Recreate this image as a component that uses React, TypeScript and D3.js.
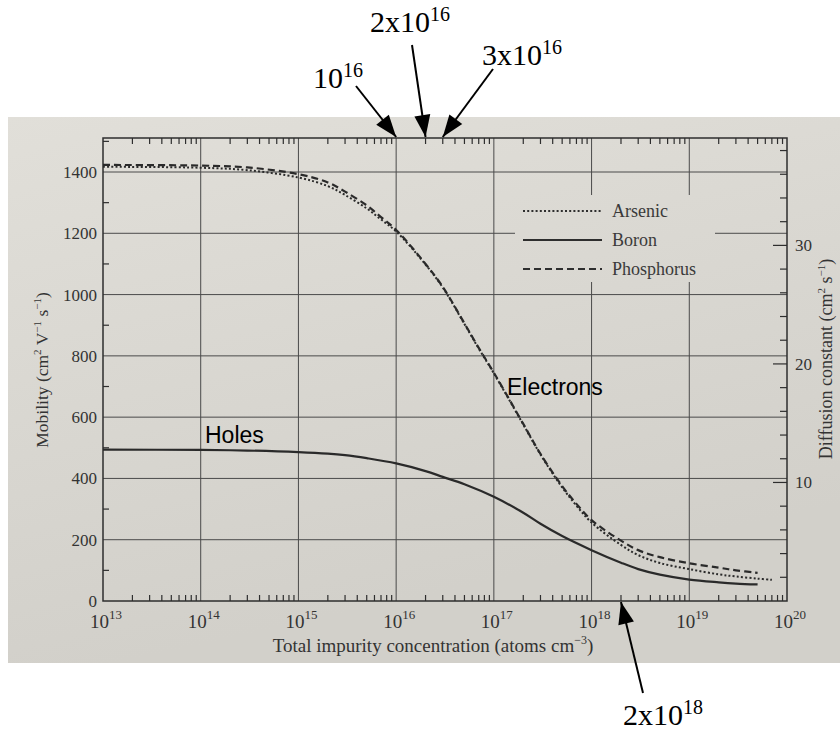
import React from 'react';
import * as d3 from 'd3';

// electrons, phosphorus doped (dashed)
const phosConc = [1e13, 1e14, 3e14, 1e15, 2e15, 3e15, 5e15, 7e15, 1e16, 2e16, 3e16, 5e16, 7e16, 1e17, 2e17, 3e17, 5e17, 7e17, 1e18, 2e18, 3e18, 5e18, 1e19, 2e19, 3e19, 5e19];
const phosMobility = [1423, 1421, 1415, 1393, 1366, 1336, 1291, 1253, 1211, 1100, 1025, 906, 826, 745, 578, 480, 375, 317, 264, 197, 166, 143, 123, 109, 100, 92];

// electrons, arsenic doped (dotted)
const arsConc = [1e13, 1e14, 3e14, 1e15, 2e15, 3e15, 5e15, 7e15, 1e16, 2e16, 3e16, 5e16, 7e16, 1e17, 2e17, 3e17, 5e17, 7e17, 1e18, 2e18, 3e18, 5e18, 1e19, 2e19, 3e19, 5e19, 7e19];
const arsMobility = [1417, 1414, 1406, 1382, 1354, 1325, 1281, 1245, 1206, 1098, 1023, 904, 824, 743, 576, 478, 371, 311, 256, 183, 150, 124, 104, 87, 80, 73, 69];

// holes, boron doped (solid)
const boronConc = [1e13, 1e14, 3e14, 1e15, 2e15, 3e15, 5e15, 1e16, 2e16, 3e16, 5e16, 1e17, 2e17, 3e17, 5e17, 1e18, 2e18, 3e18, 5e18, 1e19, 2e19, 3e19, 5e19];
const boronMobility = [494, 493, 491, 486, 481, 476, 466, 449, 424, 405, 381, 340, 288, 252, 212, 166, 125, 104, 86, 70, 61, 57, 54];

const decadeExps = [13, 14, 15, 16, 17, 18, 19, 20];
const mobilityTicks = [0, 200, 400, 600, 800, 1000, 1200, 1400];
const diffusionLabels = [10, 20, 30];
const legendItems = [
  { name: 'Arsenic', dash: '2,2.2' },
  { name: 'Boron', dash: '' },
  { name: 'Phosphorus', dash: '7,4' },
];
const topNotes = [
  { base: '10', sup: '16', at: 1e16, tx: 313, ty: 88, from: [356, 86] },
  { base: '2x10', sup: '16', at: 2e16, tx: 370, ty: 32, from: [412, 45] },
  { base: '3x10', sup: '16', at: 3e16, tx: 482, ty: 65, from: [493, 69] },
];
const bottomNote = { base: '2x10', sup: '18', at: 2e18, tx: 623, ty: 725, from: [643, 693] };

const KT_Q = 0.02585; // D = mu * kT/q
const W = 840;
const H = 732;
const left = 103, right = 787, top = 138, bottom = 601;
const yTopValue = 1511;
const serif = '"Liberation Serif", "Times New Roman", serif';
const sans = '"Liberation Sans", Arial, sans-serif';
const ink = '#2e2e2e';

const arrowHead = (x0: number, y0: number, x1: number, y1: number, len = 22, half = 8) => {
  const a = Math.atan2(y1 - y0, x1 - x0);
  const bx = x1 - len * Math.cos(a), by = y1 - len * Math.sin(a);
  const px = -Math.sin(a) * half, py = Math.cos(a) * half;
  return `M${x1},${y1}L${bx + px},${by + py}L${bx - px},${by - py}Z`;
};

export default function App() {
  const x = d3.scaleLog().domain([1e13, 1e20]).range([left, right]);
  const y = d3.scaleLinear().domain([0, yTopValue]).range([bottom, top]);

  const line = d3
    .line<[number, number]>()
    .x((d) => x(d[0]))
    .y((d) => y(d[1]))
    .curve(d3.curveCatmullRom.alpha(0.5));

  const zip = (a: number[], b: number[]) => a.map((v, i) => [v, b[i]] as [number, number]);

  const minorX: number[] = [];
  decadeExps.slice(0, -1).forEach((e) => {
    for (let k = 2; k <= 9; k++) minorX.push(k * Math.pow(10, e));
  });
  const minorY = d3.range(100, 1600, 200);
  const dTicks = d3.range(2, Math.floor(yTopValue * KT_Q) + 1, 2);

  const note = (n: typeof bottomNote, tipY: number, key: string) => {
    const tx = x(n.at);
    return (
      <g key={key}>
        <line x1={n.from[0]} y1={n.from[1]} x2={tx} y2={tipY} stroke="#000" strokeWidth={2} />
        <path d={arrowHead(n.from[0], n.from[1], tx, tipY)} fill="#000" />
        <text x={n.tx} y={n.ty} fontFamily={serif} fontSize={30} fill="#000">
          {n.base}
          <tspan fontSize={20} dy={-11}>{n.sup}</tspan>
        </text>
      </g>
    );
  };

  return (
    <svg width={W} height={H} style={{ position: 'absolute', left: 0, top: 0, background: '#fff' }}>
      <defs>
        <linearGradient id="paper" gradientUnits="userSpaceOnUse" x1="0" y1="117" x2="120" y2="663">
          <stop offset="0" stopColor="#e1dfd9" />
          <stop offset="1" stopColor="#d2d0ca" />
        </linearGradient>
      </defs>
      <rect x={8} y={117} width={W - 8} height={546} fill="url(#paper)" />

      {/* grid */}
      {decadeExps.slice(1, -1).map((e) => (
        <line key={'gx' + e} x1={x(Math.pow(10, e))} x2={x(Math.pow(10, e))} y1={top} y2={bottom} stroke="#4a4a4a" strokeWidth={1} />
      ))}
      {mobilityTicks.slice(1).map((v) => (
        <line key={'gy' + v} x1={left} x2={right} y1={y(v)} y2={y(v)} stroke="#4a4a4a" strokeWidth={1} />
      ))}

      {/* minor ticks */}
      {minorX.map((v, i) => (
        <g key={'mx' + i} stroke={ink} strokeWidth={1.2}>
          <line x1={x(v)} x2={x(v)} y1={bottom} y2={bottom - 6} />
          <line x1={x(v)} x2={x(v)} y1={top} y2={top + 6} />
        </g>
      ))}
      {minorY.map((v) => (
        <line key={'my' + v} x1={left} x2={left + 6} y1={y(v)} y2={y(v)} stroke={ink} strokeWidth={1.2} />
      ))}
      {dTicks.map((d) => (
        <line key={'dt' + d} x1={right} x2={right - (d % 10 === 0 ? 14 : 7)} y1={y(d / KT_Q)} y2={y(d / KT_Q)} stroke={ink} strokeWidth={1.2} />
      ))}

      {/* legend (covers grid) */}
      <rect x={515} y={195} width={200} height={87} fill="url(#paper)" />
      {legendItems.map((it, i) => (
        <g key={it.name}>
          <line x1={523} x2={602} y1={211 + i * 29} y2={211 + i * 29} stroke={ink} strokeWidth={2} strokeDasharray={it.dash || undefined} />
          <text x={612} y={217 + i * 29} fontFamily={serif} fontSize={18} fill="#3a3a3a">{it.name}</text>
        </g>
      ))}

      {/* frame */}
      <rect x={left} y={top} width={right - left} height={bottom - top} fill="none" stroke={ink} strokeWidth={1.5} />

      {/* curves */}
      <path d={line(zip(boronConc, boronMobility)) || ''} fill="none" stroke="#2a2a2a" strokeWidth={2.2} />
      <path d={line(zip(arsConc, arsMobility)) || ''} fill="none" stroke="#2a2a2a" strokeWidth={2} strokeDasharray="2,2.2" />
      <path d={line(zip(phosConc, phosMobility)) || ''} fill="none" stroke="#2a2a2a" strokeWidth={2.2} strokeDasharray="7,4" />

      {/* axis labels */}
      {mobilityTicks.map((v) => (
        <text key={'yl' + v} x={left - 6} y={y(v) + 6} textAnchor="end" fontFamily={serif} fontSize={17} fill="#333">{v}</text>
      ))}
      {diffusionLabels.map((d) => (
        <text key={'dl' + d} x={right + 8} y={y(d / KT_Q) + 6} fontFamily={serif} fontSize={17} fill="#333">{d}</text>
      ))}
      {decadeExps.map((e) => (
        <text key={'xl' + e} x={x(Math.pow(10, e)) - 13} y={628} fontFamily={serif} fontSize={19} fill="#333">
          10<tspan fontSize={13} dy={-9}>{e}</tspan>
        </text>
      ))}
      <text x={433} y={652} textAnchor="middle" fontFamily={serif} fontSize={19} fill="#333">
        Total impurity concentration (atoms cm<tspan fontSize={12} dy={-8}>−3</tspan><tspan dy={8}>)</tspan>
      </text>
      <text transform={`translate(48,370) rotate(-90)`} textAnchor="middle" fontFamily={serif} fontSize={17.5} fill="#333">
        Mobility (cm<tspan fontSize={11} dy={-7}>2</tspan><tspan dy={7}> V</tspan><tspan fontSize={11} dy={-7}>−1</tspan><tspan dy={7}> s</tspan><tspan fontSize={11} dy={-7}>−1</tspan><tspan dy={7}>)</tspan>
      </text>
      <text transform={`translate(832,359) rotate(-90)`} textAnchor="middle" fontFamily={serif} fontSize={18} fill="#333">
        Diffusion constant (cm<tspan fontSize={11} dy={-7}>2</tspan><tspan dy={7}> s</tspan><tspan fontSize={11} dy={-7}>−1</tspan><tspan dy={7}>)</tspan>
      </text>

      {/* overlaid labels */}
      <text x={205} y={443} fontFamily={sans} fontSize={23} fill="#000">Holes</text>
      <text x={507} y={395} fontFamily={sans} fontSize={23} fill="#000">Electrons</text>

      {topNotes.map((n, i) => note(n, top - 1, 'tn' + i))}
      {note(bottomNote, bottom + 1, 'bn')}
    </svg>
  );
}
